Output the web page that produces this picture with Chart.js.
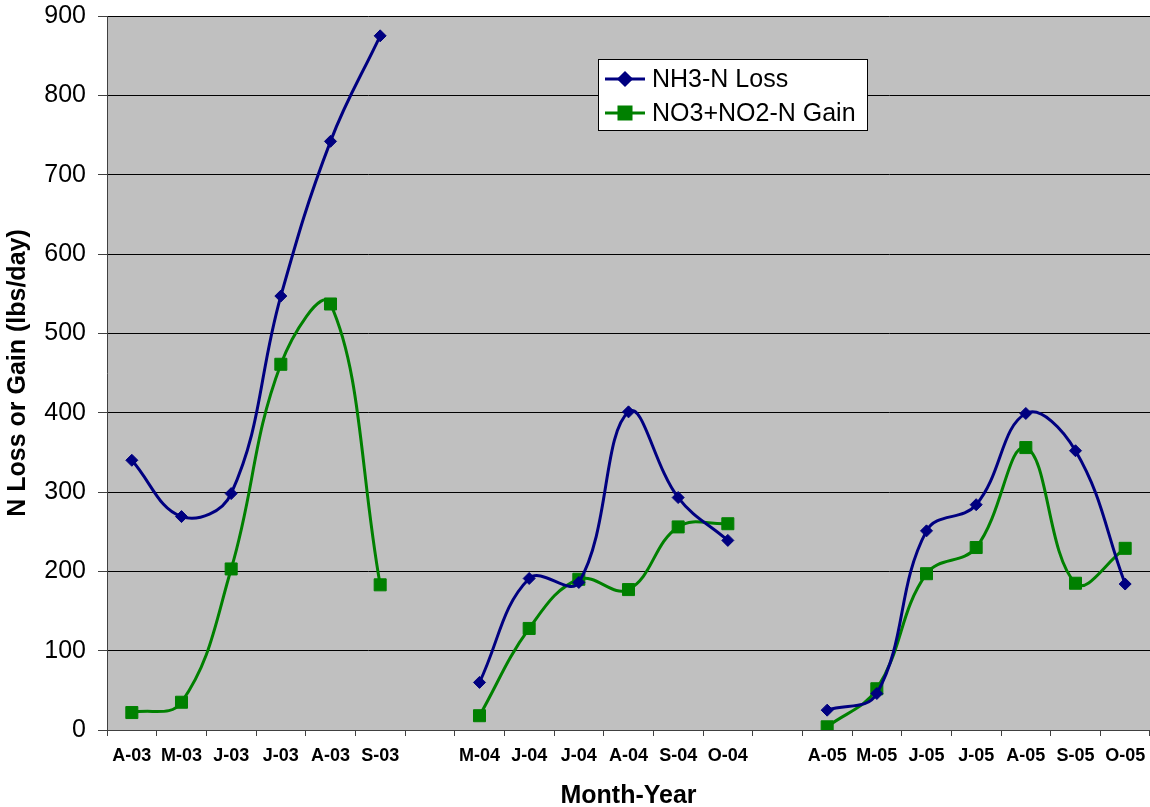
<!DOCTYPE html>
<html>
<head>
<meta charset="utf-8">
<title>N Loss or Gain</title>
<script src="https://cdn.jsdelivr.net/npm/chart.js@4"></script>
<style>
  html, body { margin: 0; padding: 0; background: #fff; overflow: hidden; }
  #wrap { width: 1150px; height: 807px; position: relative; }
  canvas { display: block; }
</style>
</head>
<body>
<div id="wrap"><canvas id="nChart"></canvas></div>
<script>
// months by year, blank slots separate the years
var months = ['A-03', 'M-03', 'J-03', 'J-03', 'A-03', 'S-03', '',
              'M-04', 'J-04', 'J-04', 'A-04', 'S-04', 'O-04', '',
              'A-05', 'M-05', 'J-05', 'J-05', 'A-05', 'S-05', 'O-05'];

var nh3Loss = [340, 269, 298, 547, 742, 875, null,
               60, 191, 186, 401, 293, 239, null,
               25, 46, 251, 284, 399, 352, 184];

var no3Gain = [22, 35, 203, 461, 537, 183, null,
               18, 128, 190, 177, 256, 260, null,
               4, 52, 197, 230, 356, 185, 229];

var yTicks = [0, 100, 200, 300, 400, 500, 600, 700, 800, 900];

var seriesNames = ['NH3-N Loss', 'NO3+NO2-N Gain'];
var seriesColors = ['#000080', '#008000'];

var fontFamily = '"Liberation Sans", Arial, sans-serif';

// gray plot background
var plotBackground = {
    id: 'plotBackground',
    beforeDraw: function(chart) {
        var a = chart.chartArea;
        var ctx = chart.ctx;
        ctx.save();
        ctx.fillStyle = '#C0C0C0';
        ctx.fillRect(a.left, a.top, a.right - a.left, a.bottom - a.top);
        ctx.restore();
    }
};

// boxed legend sitting inside the plot
var boxLegend = {
    id: 'boxLegend',
    afterDraw: function(chart) {
        var ctx = chart.ctx;
        var x = 598, y = 59, w = 269, h = 71;
        ctx.save();
        ctx.fillStyle = '#fff';
        ctx.fillRect(x, y, w, h);
        ctx.strokeStyle = '#000';
        ctx.lineWidth = 1;
        ctx.strokeRect(x + 0.5, y + 0.5, w, h);
        chart.data.datasets.forEach(function(ds, i) {
            var cy = 79 + i * 34;
            ctx.strokeStyle = ds.borderColor;
            ctx.lineWidth = 3;
            ctx.beginPath();
            ctx.moveTo(605, cy);
            ctx.lineTo(645, cy);
            ctx.stroke();
            Chart.helpers.drawPoint(ctx, {
                pointStyle: ds.pointStyle,
                radius: ds.pointRadius,
                borderWidth: 1
            }, 625, cy);
            ctx.fillStyle = ds.borderColor;
            ctx.fill();
            ctx.fillStyle = '#000';
            ctx.font = '25px ' + fontFamily;
            ctx.textBaseline = 'middle';
            ctx.textAlign = 'left';
            ctx.fillText(ds.label, 652, cy + 1);
        });
        ctx.restore();
    }
};

var ctx = document.getElementById('nChart').getContext('2d');
new Chart(ctx, {
    type: 'line',
    data: {
        labels: months,
        datasets: [{
            label: seriesNames[0],
            data: nh3Loss,
            borderColor: seriesColors[0],
            backgroundColor: seriesColors[0],
            pointBackgroundColor: seriesColors[0],
            pointBorderColor: seriesColors[0],
            borderWidth: 3,
            pointStyle: 'rectRot',
            pointRadius: 6,
            pointBorderWidth: 1,
            tension: 0.4,
            spanGaps: false
        }, {
            label: seriesNames[1],
            data: no3Gain,
            borderColor: seriesColors[1],
            backgroundColor: seriesColors[1],
            pointBackgroundColor: seriesColors[1],
            pointBorderColor: seriesColors[1],
            borderWidth: 3,
            pointStyle: 'rect',
            pointRadius: 8.5,
            pointBorderWidth: 1,
            tension: 0.4,
            spanGaps: false
        }]
    },
    options: {
        responsive: true,
        maintainAspectRatio: false,
        animation: false,
        layout: { autoPadding: false, padding: { top: 16, right: 0, bottom: 0, left: 0 } },
        plugins: {
            legend: { display: false },
            tooltip: { enabled: false }
        },
        scales: {
            x: {
                type: 'category',
                offset: true,
                afterFit: function(scale) {
                    scale.height = 77;
                    scale.paddingLeft = 0;
                    scale.paddingRight = 0;
                },
                grid: {
                    offset: true,
                    drawOnChartArea: false,
                    drawTicks: true,
                    tickLength: 6,
                    color: '#404040'
                },
                border: { display: true, color: '#404040', width: 1 },
                ticks: {
                    autoSkip: false,
                    maxRotation: 0,
                    padding: 9,
                    color: '#000',
                    font: { family: fontFamily, size: 18, weight: 'bold' }
                },
                title: {
                    display: true,
                    text: 'Month-Year',
                    color: '#000',
                    padding: { top: 0, bottom: 0 },
                    font: { family: fontFamily, size: 25, weight: 'bold', lineHeight: 0.88 }
                }
            },
            y: {
                min: 0,
                max: 900,
                afterFit: function(scale) {
                    scale.width = 107;
                    scale.paddingTop = 0;
                    scale.paddingBottom = 0;
                },
                afterBuildTicks: function(scale) {
                    scale.ticks = yTicks.map(function(v) { return { value: v }; });
                },
                grid: {
                    color: '#000',
                    lineWidth: 1,
                    drawTicks: true,
                    tickLength: 9,
                    tickColor: '#404040'
                },
                border: { display: true, color: '#404040', width: 1 },
                ticks: {
                    padding: 12,
                    color: '#000',
                    font: { family: fontFamily, size: 25 }
                },
                title: {
                    display: true,
                    text: 'N Loss or Gain (lbs/day)',
                    color: '#000',
                    padding: { top: 3, bottom: 0 },
                    font: { family: fontFamily, size: 25, weight: 'bold', lineHeight: 1.2 }
                }
            }
        }
    },
    plugins: [plotBackground, boxLegend]
});
</script>
</body>
</html>
